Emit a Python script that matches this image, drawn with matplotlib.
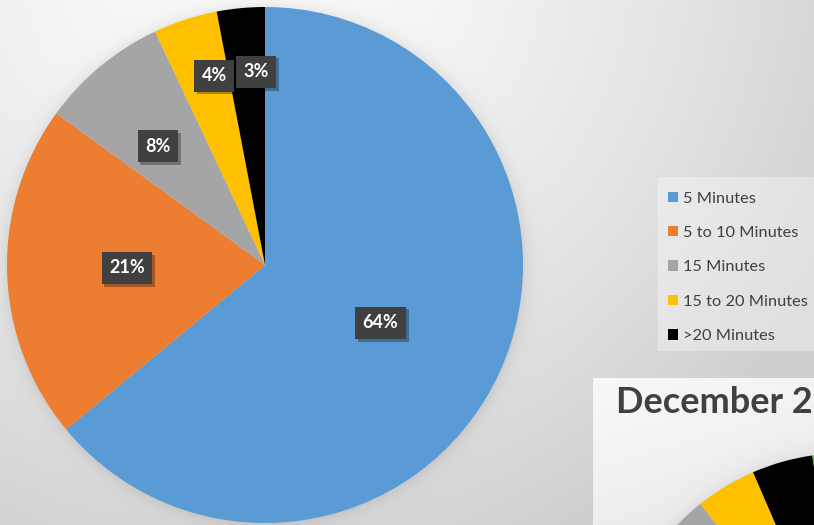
import numpy as np
import matplotlib
matplotlib.use('Agg')
import matplotlib.pyplot as plt
from matplotlib import patheffects as pe
from matplotlib.patches import Rectangle

# ---- data ----
categories = ['5 Minutes', '5 to 10 Minutes', '15 Minutes', '15 to 20 Minutes', '>20 Minutes']
shares = [64, 21, 8, 4, 3]
colors = ['#5b9bd5', '#ed7d31', '#a5a5a5', '#ffc000', '#000000']

# second (partially visible) chart
dec_title = 'December 2'
dec_shares = [61, 20, 8.3, 4.2, 4.2, 2.3]
dec_colors = colors + ['#70ad47']

W, H = 814, 525
fig = plt.figure(figsize=(W / 100, H / 100), dpi=100)

# ---- background ----
PC, PR = (265, 265), 258      # main pie centre / radius (px)
D2C, D2R = (846, 687), 234    # second pie centre / radius (px)
PX0, PY0 = 593, 378           # second panel corner (px)

bgax = fig.add_axes([0, 0, 1, 1])
bgax.axis('off')
yy, xx = np.mgrid[0:H, 0:W]
d = np.hypot(xx - 250, yy + 50)
v = 0.985 - 0.15 * np.clip(d / 600, 0, 1.1) ** 1.5
dp = np.hypot(xx - PC[0], yy - PC[1]) - PR
v = v - 0.07 * np.exp(-np.clip(dp, 0, None) / 7)
panel = (xx >= PX0) & (yy >= PY0)
pv = 0.975 - 0.06 * ((xx - PX0) / (W - PX0) * 0.3 + (yy - PY0) / (H - PY0) * 0.7)
dp2 = np.hypot(xx - D2C[0], yy - D2C[1]) - D2R
pv = pv - 0.06 * np.exp(-np.clip(dp2, 0, None) / 8)
v = np.where(panel, pv, v)
bgax.imshow(np.dstack([v, v, v]).clip(0, 1), extent=[0, W, H, 0], aspect='auto',
            interpolation='bilinear')
bgax.set_xlim(0, W)
bgax.set_ylim(H, 0)

# ---- main pie ----
ax = fig.add_axes([(PC[0] - PR) / W, (H - PC[1] - PR) / H, 2 * PR / W, 2 * PR / H])
wedges, _ = ax.pie(shares, colors=colors, startangle=90, counterclock=False, radius=1)
ax.set_xlim(-1, 1)
ax.set_ylim(-1, 1)

r_lab = [0.50, 0.535, 0.62, 0.76, 0.75]
nudge = [-1.4, -0.6, 2.4, -3.0, -2.7]
for w, s, r, dn in zip(wedges, shares, r_lab, nudge):
    a = np.deg2rad((w.theta1 + w.theta2) / 2 + dn)
    t = ax.text(r * np.cos(a), r * np.sin(a), f'{s}%', ha='center', va='center',
                color='white', fontsize=13, fontweight='bold', family='Lato',
                bbox=dict(boxstyle='square,pad=0.42', fc='#404040', ec='none'))
    t.get_bbox_patch().set_path_effects([
        pe.SimplePatchShadow(offset=(2, -2), shadow_rgbFace='black', alpha=0.3),
        pe.Normal()])

# ---- legend ----
fig.add_artist(Rectangle((658 / W, 1 - 351 / H), 200 / W, 174 / H,
                         transform=fig.transFigure, fc='white', alpha=0.35, ec='none'))
leg = fig.legend(wedges, categories, loc='upper left',
                 bbox_to_anchor=(668 / W, 1 - 191.5 / H), frameon=False,
                 borderaxespad=0, borderpad=0, handlelength=0.6, handleheight=0.6,
                 handletextpad=0.3, labelspacing=1.25,
                 prop={'family': 'Lato', 'size': 11.8})
for t in leg.get_texts():
    t.set_color('#404040')

# ---- second, partially visible chart ----
ax2 = fig.add_axes([(D2C[0] - D2R) / W, (H - D2C[1] - D2R) / H, 2 * D2R / W, 2 * D2R / H])
ax2.pie(dec_shares, colors=dec_colors, startangle=90, counterclock=False)
ax2.set_xlim(-1, 1)
ax2.set_ylim(-1, 1)
fig.text(616 / W, 1 - 413 / H, dec_title, fontsize=26, fontweight='bold',
         color='#404040', family='Lato', va='baseline')

fig.savefig('out.png', dpi=100)
